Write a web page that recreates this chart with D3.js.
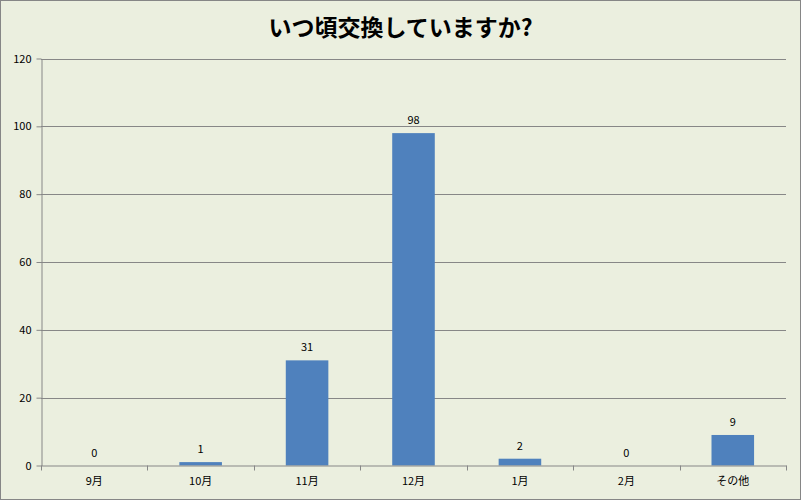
<!DOCTYPE html>
<html>
<head>
<meta charset="utf-8">
<script src="https://cdn.jsdelivr.net/npm/d3@7"></script>
<style>
  body { margin: 0; background: #fff; }
  svg { display: block; }
  text { font-family: "Noto Sans CJK JP", "DejaVu Sans", sans-serif; }
</style>
</head>
<body>
<div id="chart"></div>
<script>
var months = ["9月", "10月", "11月", "12月", "1月", "2月", "その他"];
var counts = [0, 1, 31, 98, 2, 0, 9];
var yTicks = [0, 20, 40, 60, 80, 100, 120];
var title = "いつ頃交換していますか?";

var W = 801, H = 500;
var plotLeft = 41, plotRight = 786, plotTop = 58.5, plotBottom = 465.5;

var svg = d3.select("#chart").append("svg")
    .attr("width", W)
    .attr("height", H);

// chart area background + border
svg.append("rect")
    .attr("x", 0.5).attr("y", 0.5)
    .attr("width", W - 1).attr("height", H - 1)
    .attr("fill", "#ebefdf")
    .attr("stroke", "#868686");

var x = d3.scaleBand()
    .domain(months)
    .range([plotLeft, plotRight])
    .paddingInner(0.6)
    .paddingOuter(0.3);

var xb = d3.scaleBand().domain(months).range([plotLeft, plotRight]);

var y = d3.scaleLinear()
    .domain([0, 120])
    .range([plotBottom, plotTop]);

// gridlines
svg.append("g")
    .selectAll("line")
    .data(yTicks.filter(function(d){ return d > 0; }))
    .join("line")
    .attr("x1", plotLeft).attr("x2", plotRight)
    .attr("y1", function(d){ return Math.round(y(d)) + 0.5; })
    .attr("y2", function(d){ return Math.round(y(d)) + 0.5; })
    .attr("stroke", "#878787");

// bars
svg.append("g")
    .selectAll("rect")
    .data(counts)
    .join("rect")
    .attr("x", function(d, i){ return x(months[i]); })
    .attr("width", x.bandwidth())
    .attr("y", function(d){ return y(d); })
    .attr("height", function(d){ return plotBottom - y(d); })
    .attr("fill", "#4f81bd");

// value labels
svg.append("g")
    .selectAll("text")
    .data(counts)
    .join("text")
    .attr("x", function(d, i){ return x(months[i]) + x.bandwidth() / 2; })
    .attr("y", function(d){ return y(d) - 9; })
    .attr("text-anchor", "middle")
    .attr("font-size", 11)
    .attr("fill", "#000")
    .text(function(d){ return d; });

// y axis
var yAxis = svg.append("g")
    .attr("transform", "translate(" + (plotLeft + 0.5) + ",0)")
    .call(d3.axisLeft(y).tickValues(yTicks).tickSize(5).tickSizeOuter(0).tickPadding(5));
yAxis.select(".domain").attr("stroke", "#878787");
yAxis.selectAll(".tick line").attr("stroke", "#878787");
yAxis.selectAll(".tick text")
    .attr("font-size", 11)
    .attr("fill", "#000")
    .attr("font-family", "\"Noto Sans CJK JP\", \"DejaVu Sans\", sans-serif");

// x axis
var xAxis = svg.append("g")
    .attr("transform", "translate(0," + plotBottom + ")")
    .call(d3.axisBottom(xb).tickSize(0).tickPadding(12));
xAxis.select(".domain").attr("stroke", "#878787");
xAxis.selectAll(".tick text")
    .attr("font-size", 11)
    .attr("fill", "#000")
    .attr("font-family", "\"Noto Sans CJK JP\", \"DejaVu Sans\", sans-serif");

// category separator ticks
svg.append("g")
    .selectAll("line")
    .data(months.concat(["end"]))
    .join("line")
    .attr("x1", function(d, i){ return Math.round(plotLeft + i * xb.bandwidth()) + 0.5; })
    .attr("x2", function(d, i){ return Math.round(plotLeft + i * xb.bandwidth()) + 0.5; })
    .attr("y1", plotBottom)
    .attr("y2", plotBottom + 5)
    .attr("stroke", "#878787");

// title
svg.append("text")
    .attr("x", W / 2)
    .attr("y", 36)
    .attr("text-anchor", "middle")
    .attr("font-size", 23)
    .attr("font-weight", "bold")
    .attr("fill", "#000")
    .text(title);
</script>
</body>
</html>
